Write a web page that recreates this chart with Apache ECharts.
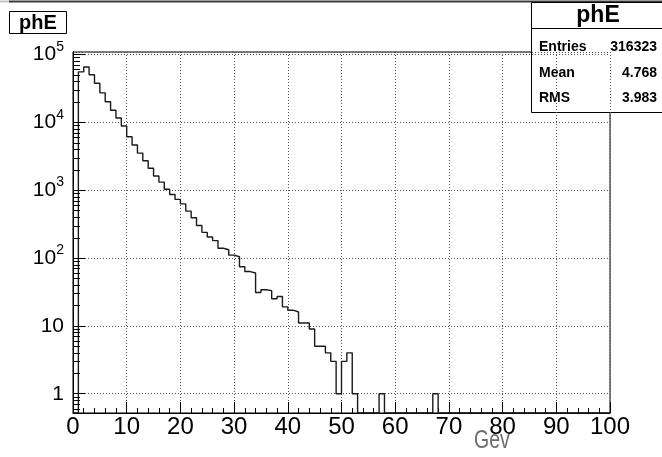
<!DOCTYPE html>
<html>
<head>
<meta charset="utf-8">
<script src="https://cdn.jsdelivr.net/npm/echarts@6/dist/echarts.min.js"></script>
<style>
  html, body { margin: 0; padding: 0; background: #fff; }
  #chart { width: 662px; height: 457px; }
</style>
</head>
<body>
<div id="chart"></div>
<script>
// Histogram "phE": photon energy spectrum, 100 bins of 1 GeV from 0 to 100
const binLow = 0;
const binHigh = 100;
const binWidth = 1;
const counts = [
  0, 55000, 65000, 50000, 37500, 27000, 20000, 15000, 11500, 8800,
  6100, 4600, 3500, 2700, 2090, 1610, 1310, 1030, 860, 728,
  625, 490, 390, 300, 238, 203, 180, 139, 132, 110,
  104, 74, 63, 60, 31, 34, 33, 25, 27, 19,
  17, 16, 11, 11, 9, 5, 5, 4, 3, 1,
  3, 4, 1, 0, 0, 0, 0, 1, 0, 0,
  0, 0, 0, 0, 0, 0, 0, 1, 0, 0,
  0, 0, 0, 0, 0, 0, 0, 0, 0, 0,
  0, 0, 0, 0, 0, 0, 0, 0, 0, 0,
  0, 0, 0, 0, 0, 0, 0, 0, 0, 0
];

// Axis ranges
const yMin = 0.52;
const yMax = 108000;
const xTickStep = 10;

// Labelled decades on the log axis and the 2..9 sub-ticks between them
const yDecades = [1, 10, 100, 1000, 10000, 100000];
const yMinorTicks = [];
[0.1, 1, 10, 100, 1000, 10000].forEach(function (d) {
  for (let k = 2; k <= 9; k++) {
    const v = k * d;
    if (v > yMin && v < yMax) yMinorTicks.push(+v.toPrecision(3));
  }
});

// Statistics box contents
const histName = 'phE';
const statEntries = '316323';
const statMean = '4.768';
const statRms = '3.983';
const xTitle = 'Gev';

// Step outline: one point per bin low edge, closing point at the upper edge.
// Empty bins sit on the bottom of the frame, as ROOT draws them.
const outline = [];
counts.forEach(function (c, i) {
  outline.push([binLow + i * binWidth, c > 0 ? c : yMin]);
});
outline.push([binHigh, counts[counts.length - 1] > 0 ? counts[counts.length - 1] : yMin]);

const FONT = '"Liberation Sans", Arial, Helvetica, sans-serif';

function decadeLabel(v) {
  const e = Math.round(Math.log10(v));
  if (Math.abs(Math.log10(v) - e) > 1e-6) return '';
  if (yDecades.indexOf(Math.pow(10, e)) < 0) return '';
  if (e === 0) return '1';
  if (e === 1) return '10';
  return '10{sup|' + e + '}';
}

const chart = echarts.init(document.getElementById('chart'), null, { renderer: 'canvas' });

const statLabel = { fontFamily: FONT, fontWeight: 'bold', fontSize: 14, fill: '#000', verticalAlign: 'middle' };

chart.setOption({
  animation: false,
  backgroundColor: '#ffffff',
  grid: {
    left: 73, right: 52, top: 52, bottom: 44,
    show: true, borderColor: '#000', borderWidth: 1, backgroundColor: 'transparent'
  },
  xAxis: {
    type: 'value',
    min: binLow, max: binHigh, interval: xTickStep,
    axisLine: { show: true, onZero: false, lineStyle: { color: '#000', width: 1 } },
    axisTick: { show: true, inside: true, length: 11, lineStyle: { color: '#000' } },
    minorTick: { show: true, splitNumber: 5, length: 5, lineStyle: { color: '#000' } },
    axisLabel: { color: '#000', fontFamily: FONT, fontSize: 24, margin: 2 },
    splitLine: { show: true, lineStyle: { color: '#555', width: 1, type: [1, 2] } }
  },
  yAxis: {
    type: 'log',
    logBase: 10,
    min: yMin, max: yMax,
    axisLine: { show: true, lineStyle: { color: '#000', width: 1 } },
    axisTick: { show: true, inside: true, length: 12, lineStyle: { color: '#000' } },
    axisLabel: {
      color: '#000', fontFamily: FONT, fontSize: 21, margin: 9,
      showMinLabel: false, showMaxLabel: false,
      formatter: decadeLabel,
      rich: {
        sup: { fontFamily: FONT, fontSize: 14, color: '#000', padding: [0, 0, 15, 0] }
      }
    },
    splitLine: { show: true, lineStyle: { color: '#555', width: 1, type: [1, 2] } }
  },
  series: [
    {
      name: histName,
      type: 'line',
      step: 'end',
      data: outline,
      showSymbol: false,
      clip: true,
      lineStyle: { color: '#1a1a1a', width: 1.4 },
      z: 4
    },
    {
      // secondary log ticks (2..9 within each decade) on the left axis
      type: 'custom',
      coordinateSystem: 'cartesian2d',
      silent: true,
      data: yMinorTicks.map(function (v) { return [binLow, v]; }),
      renderItem: function (params, api) {
        const p = api.coord([api.value(0), api.value(1)]);
        const y = Math.round(p[1]) + 0.5;
        return {
          type: 'line',
          shape: { x1: p[0], y1: y, x2: p[0] + 7, y2: y },
          style: { stroke: '#000', lineWidth: 1 }
        };
      },
      z: 5
    }
  ],
  graphic: [
    // pad edge
    { type: 'line', shape: { x1: 0, y1: 1.5, x2: 9, y2: 1.5 }, style: { stroke: '#c8c8c8', lineWidth: 2 }, silent: true },
    { type: 'line', shape: { x1: 9, y1: 1.5, x2: 662, y2: 1.5 }, style: { stroke: '#3a3a3a', lineWidth: 2 }, silent: true },
    // title box
    {
      type: 'group', left: 9, top: 11, silent: true,
      children: [
        { type: 'rect', shape: { x: 0.5, y: 0.5, width: 57, height: 22 }, style: { fill: '#fff', stroke: '#000', lineWidth: 1 } },
        { type: 'text', x: 29, y: 12, style: { text: histName, fontFamily: FONT, fontWeight: 'bold', fontSize: 20, fill: '#000', align: 'center', verticalAlign: 'middle' } }
      ]
    },
    // statistics box
    {
      type: 'group', left: 529, top: 2, silent: true,
      children: [
        { type: 'rect', shape: { x: 0.5, y: 0.5, width: 140, height: 110 }, style: { fill: '#fff', stroke: '#000', lineWidth: 1 } },
        { type: 'line', shape: { x1: 0.5, y1: 26.5, x2: 140, y2: 26.5 }, style: { stroke: '#000', lineWidth: 1 } },
        { type: 'text', x: 67, y: 14, style: { text: histName, fontFamily: FONT, fontWeight: 'bold', fontSize: 23, fill: '#000', align: 'center', verticalAlign: 'middle' } },
        { type: 'text', x: 8, y: 45, style: Object.assign({ text: 'Entries', align: 'left' }, statLabel) },
        { type: 'text', x: 126, y: 45, style: Object.assign({ text: statEntries, align: 'right' }, statLabel) },
        { type: 'text', x: 8, y: 71, style: Object.assign({ text: 'Mean', align: 'left' }, statLabel) },
        { type: 'text', x: 126, y: 71, style: Object.assign({ text: statMean, align: 'right' }, statLabel) },
        { type: 'text', x: 8, y: 96, style: Object.assign({ text: 'RMS', align: 'left' }, statLabel) },
        { type: 'text', x: 126, y: 96, style: Object.assign({ text: statRms, align: 'right' }, statLabel) }
      ]
    },
    // x-axis title
    {
      type: 'text', x: 474, y: 441, scaleX: 0.78, silent: true,
      style: { text: xTitle, fontFamily: FONT, fontSize: 25, fill: '#6e6e6e', verticalAlign: 'middle' }
    }
  ]
});
</script>
</body>
</html>
